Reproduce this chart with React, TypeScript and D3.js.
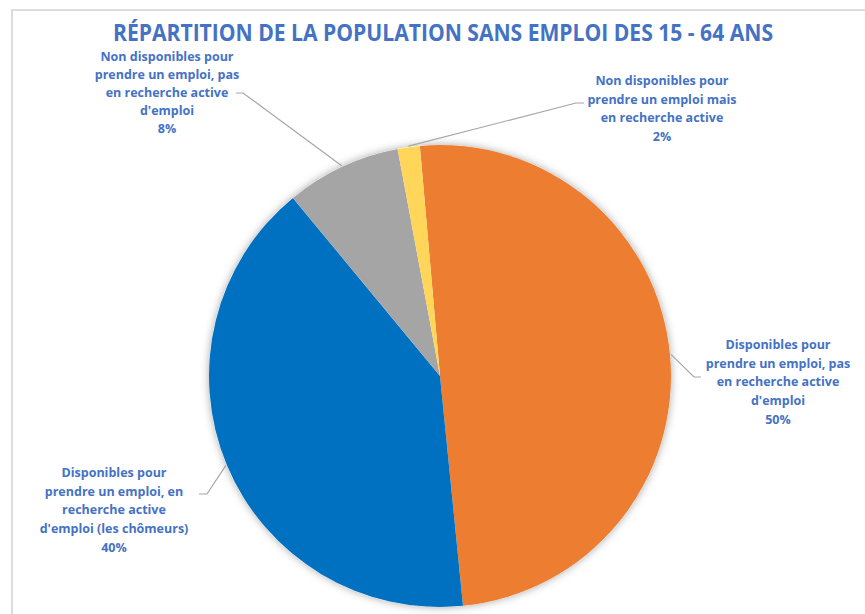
import React from 'react';
import * as d3 from 'd3';

// Données (ordre horaire à partir du haut)
const categories = [
  'Disponibles pour prendre un emploi, pas en recherche active d\'emploi',
  'Disponibles pour prendre un emploi, en recherche active d\'emploi (les chômeurs)',
  'Non disponibles pour prendre un emploi, pas en recherche active d\'emploi',
  'Non disponibles pour prendre un emploi mais en recherche active',
];
const values = [49.8, 40.6, 8.05, 1.55];
const percentLabels = ['50%', '40%', '8%', '2%'];
const labelLines = [
  ['Disponibles pour', 'prendre un emploi, pas', 'en recherche active', "d'emploi"],
  ['Disponibles pour', 'prendre un emploi, en', 'recherche active', "d'emploi (les chômeurs)"],
  ['Non disponibles pour', 'prendre un emploi, pas', 'en recherche active', "d'emploi"],
  ['Non disponibles pour', 'prendre un emploi mais', 'en recherche active'],
];
const colors = ['#ED7D31', '#0070C0', '#A5A5A5', '#FFD659'];

const W = 865;
const H = 614;
const cx = 440;
const cy = 376;
const radius = 231;
const labelColor = '#4472C4';

// positions des étiquettes (centre du texte, première ligne) et coudes des lignes de rappel
const labelPos = [
  { x: 778, y: 349, lh: 18.7, elbow: [694, 377], end: [701, 377] },
  { x: 114, y: 477, lh: 18.7, elbow: [207, 494], end: [199, 494] },
  { x: 167, y: 61, lh: 18, elbow: [243, 93], end: [236, 93] },
  { x: 662, y: 85, lh: 18.7, elbow: [576, 103], end: [584, 103] },
];

export default function App() {
  const pie = d3.pie<number>()
    .sort(null)
    .value(d => d)
    .startAngle(-5 * Math.PI / 180)
    .endAngle(-5 * Math.PI / 180 + 2 * Math.PI);
  const arcs = pie(values);
  const arc = d3.arc<d3.PieArcDatum<number>>().innerRadius(0).outerRadius(radius);

  return (
    <svg width={W} height={H} style={{ position: 'absolute', left: 0, top: 0, background: '#fff' }}
      fontFamily="'Open Sans', sans-serif">
      <defs>
        <filter id="shadow" x="-20%" y="-20%" width="140%" height="140%">
          <feDropShadow dx="0" dy="0" stdDeviation="4" floodColor="#000" floodOpacity="0.35" />
        </filter>
      </defs>
      <rect x={12} y={10} width={W} height={H} fill="#fff" stroke="#dcdcdc" strokeWidth={2} />

      <text x={443} y={41} textAnchor="middle" fontSize={23.5} fontWeight={700} fill={labelColor}
        textLength={660} lengthAdjust="spacingAndGlyphs">
        RÉPARTITION DE LA POPULATION SANS EMPLOI DES 15 - 64 ANS
      </text>

      <g transform={`translate(${cx},${cy})`}>
        <circle r={radius} fill="#fff" filter="url(#shadow)" />
        {arcs.map((a, i) => (
          <path key={categories[i]} d={arc(a) || ''} fill={colors[i]} />
        ))}
      </g>

      {arcs.map((a, i) => {
        const mid = (a.startAngle + a.endAngle) / 2;
        const sx = cx + (radius + 1) * Math.sin(mid);
        const sy = cy - (radius + 1) * Math.cos(mid);
        const p = labelPos[i];
        const lines = [...labelLines[i], percentLabels[i]];
        return (
          <g key={`lab-${i}`}>
            <polyline
              points={`${sx},${sy} ${p.elbow[0]},${p.elbow[1]} ${p.end[0]},${p.end[1]}`}
              fill="none" stroke="#a6a6a6" strokeWidth={1.2} />
            <text textAnchor="middle" fontSize={12.5} fontWeight={700} fill={labelColor}>
              {lines.map((l, j) => (
                <tspan key={j} x={p.x} y={p.y + j * p.lh}>{l}</tspan>
              ))}
            </text>
          </g>
        );
      })}
    </svg>
  );
}
